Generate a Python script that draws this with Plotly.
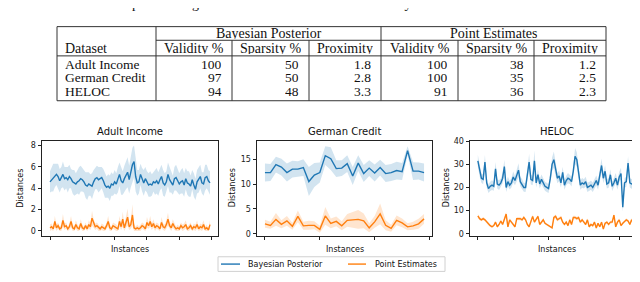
import plotly.graph_objects as go

W, H = 640, 282

# ---------------- table data ----------------
datasets = ["Adult Income", "German Credit", "HELOC"]
group_labels = ["Bayesian Posterior", "Point Estimates"]
metric_labels = ["Validity %", "Sparsity %", "Proximity"]
bayes_validity = [100, 97, 94]
bayes_sparsity = [50, 50, 48]
bayes_proximity = [1.8, 2.8, 3.3]
point_validity = [100, 100, 91]
point_sparsity = [38, 35, 36]
point_proximity = [1.2, 2.5, 2.3]

# ---------------- chart data ----------------
adult_bayes = [4.6, 4.8, 5.0, 5.2, 5.3, 5.1, 4.7, 5.0, 5.3, 4.9,
               5.0, 4.8, 5.1, 4.9, 4.6, 4.5, 4.4, 4.6, 4.7, 4.9,
               4.8, 4.6, 4.3, 4.2, 4.4, 4.3, 4.2, 4.6, 4.9, 5.0,
               4.8, 4.9, 5.0, 4.7, 4.3, 4.1, 4.2, 4.0, 4.4, 4.3,
               4.6, 4.4, 4.8, 5.3, 4.7, 4.5, 4.9, 5.2, 5.5, 4.8,
               5.6, 6.2, 6.5, 5.1, 4.5, 4.6, 5.3, 4.8, 4.5, 4.9,
               4.6, 4.3, 4.4, 4.3, 4.6, 4.5, 4.7, 4.4, 4.8, 5.1,
               4.5, 4.3, 4.6, 5.3, 4.8, 4.6, 4.3, 4.9, 5.0, 4.7,
               4.4, 4.6, 4.7, 4.3, 4.9, 4.5, 4.4, 4.2, 4.8, 4.3,
               3.9, 4.6, 4.8, 5.1, 4.5, 4.4, 5.0, 5.1, 4.7, 4.5]
adult_bayes_sd = [1.0, 1.1, 1.3, 1.1, 1.0, 1.2, 1.1, 1.0, 1.2, 1.1,
                  1.0, 1.2, 1.1, 0.9, 1.1, 1.2, 1.0, 1.1, 1.3, 1.2,
                  1.1, 1.0, 1.2, 1.3, 1.1, 1.0, 1.2, 1.1, 1.0, 1.1,
                  1.2, 1.1, 1.0, 1.1, 1.2, 1.0, 1.1, 1.2, 1.1, 1.0,
                  1.1, 1.0, 1.2, 1.1, 1.3, 1.1, 1.2, 1.3, 1.4, 1.3,
                  1.5, 1.6, 1.5, 1.4, 1.2, 1.1, 1.0, 1.1, 1.2, 1.1,
                  1.0, 1.1, 1.2, 1.0, 0.9, 1.1, 1.2, 1.1, 1.0, 1.1,
                  1.2, 1.1, 1.0, 1.1, 1.2, 1.0, 0.9, 1.1, 1.2, 1.1,
                  1.0, 1.1, 1.2, 1.1, 1.0, 1.1, 1.2, 1.0, 0.9, 1.1,
                  1.0, 1.1, 1.2, 1.1, 1.0, 1.1, 1.2, 1.1, 1.0, 1.1]
adult_point = [0.3, 0.4, 0.2, 0.9, 0.3, 0.5, 0.2, 0.3, 1.0, 0.4,
               0.5, 0.2, 0.4, 0.9, 0.3, 0.2, 0.6, 0.3, 0.2, 0.7,
               0.3, 0.2, 0.5, 0.2, 0.6, 0.4, 1.2, 0.7, 0.4, 0.5,
               0.3, 0.2, 0.4, 0.3, 0.2, 0.5, 0.9, 0.3, 0.2, 0.5,
               0.4, 0.3, 0.2, 0.9, 0.4, 1.1, 0.3, 0.8, 1.3, 0.4,
               0.6, 1.5, 0.3, 0.2, 0.3, 0.2, 0.3, 0.5, 0.4, 0.2,
               0.8, 0.5, 0.9, 0.4, 0.7, 0.3, 0.5, 0.4, 0.2, 0.8,
               0.4, 0.3, 0.6, 1.1, 0.5, 0.3, 0.7, 0.4, 0.2, 0.3,
               0.2, 0.5, 0.3, 0.4, 0.6, 0.2, 0.3, 0.5, 0.2, 0.4,
               0.3, 0.6, 0.2, 0.4, 0.3, 0.6, 0.2, 0.3, 0.1, 0.6]
adult_point_sd = [0.3, 0.3, 0.2, 0.5, 0.3, 0.3, 0.2, 0.3, 0.6, 0.3,
                  0.3, 0.2, 0.3, 0.5, 0.3, 0.2, 0.4, 0.3, 0.2, 0.4,
                  0.3, 0.2, 0.3, 0.2, 0.4, 0.3, 0.7, 0.4, 0.3, 0.3,
                  0.3, 0.2, 0.3, 0.3, 0.2, 0.3, 0.5, 0.3, 0.2, 0.3,
                  0.3, 0.3, 0.2, 0.5, 0.3, 0.7, 0.3, 0.5, 0.8, 0.3,
                  0.4, 1.0, 0.3, 0.2, 0.3, 0.2, 0.3, 0.3, 0.3, 0.2,
                  0.5, 0.3, 0.5, 0.3, 0.4, 0.3, 0.3, 0.3, 0.2, 0.5,
                  0.3, 0.3, 0.4, 0.6, 0.3, 0.3, 0.4, 0.3, 0.2, 0.3,
                  0.2, 0.3, 0.3, 0.3, 0.4, 0.2, 0.3, 0.3, 0.2, 0.3,
                  0.3, 0.4, 0.2, 0.3, 0.3, 0.4, 0.2, 0.3, 0.1, 0.4]

german_bayes = [12.3, 12.3, 13.9, 13.4, 12.3, 13.0, 13.0, 13.3, 10.5, 11.8,
                12.3, 15.7, 15.1, 13.1, 13.2, 14.1, 11.6, 14.2, 12.1, 13.2,
                12.2, 13.3, 12.1, 12.3, 12.7, 12.5, 16.7, 12.6, 12.6, 12.3]
german_bayes_sd = [1.8, 1.7, 1.6, 1.7, 1.8, 1.7, 1.6, 1.7, 2.9, 2.4,
                   2.0, 1.9, 2.3, 1.7, 1.6, 1.7, 1.8, 1.6, 1.7, 1.6,
                   1.7, 1.6, 1.7, 1.7, 1.8, 1.7, 0.9, 1.8, 1.7, 1.8]
german_point = [2.0, 1.7, 2.9, 1.9, 2.6, 1.5, 3.5, 1.6, 1.7, 1.7,
                0.9, 3.6, 2.1, 2.5, 1.6, 2.7, 2.8, 2.9, 2.6, 1.2,
                2.4, 4.0, 1.7, 1.1, 2.7, 2.2, 1.4, 1.6, 2.0, 3.0]
german_point_sd = [0.8, 0.7, 1.3, 0.8, 1.0, 0.7, 1.2, 0.8, 0.9, 0.8,
                   0.7, 1.8, 1.0, 1.0, 0.9, 1.3, 1.6, 1.9, 1.5, 0.9,
                   1.2, 2.1, 1.0, 0.7, 1.0, 0.9, 0.7, 0.8, 1.0, 1.0]

heloc_bayes = [31.5, 27.0, 24.0, 23.5, 31.0, 22.0, 19.5, 20.5, 21.0, 20.5,
               28.0, 21.5, 21.0, 22.0, 24.0, 29.0, 20.0, 22.5, 21.0, 22.0,
               24.5, 23.0, 25.0, 27.5, 22.5, 21.5, 20.0, 20.0, 25.0, 31.0,
               23.5, 23.0, 31.5, 22.0, 25.5, 21.5, 23.5, 22.0, 20.5, 20.0,
               19.5, 24.0, 30.0, 32.0, 28.0, 24.0, 25.0, 22.0, 26.5, 21.0,
               23.0, 24.0, 23.5, 22.5, 27.0, 33.5, 32.0, 26.0, 21.0, 22.0,
               21.5, 22.5, 20.0, 20.5, 21.0, 20.0, 21.5, 23.0, 21.0, 25.0,
               29.5, 24.0, 27.0, 21.5, 22.0, 25.5, 20.5, 22.0, 24.0, 21.0,
               24.5, 26.0, 11.5, 22.0, 22.5, 30.5, 22.0, 21.5, 22.0, 23.5]
heloc_bayes_sd = [2.5, 2.2, 2.0, 2.1, 3.0, 2.0, 1.9, 2.0, 2.1, 1.9,
                  3.0, 2.0, 2.1, 1.9, 2.2, 3.0, 2.0, 2.1, 1.9, 2.0,
                  2.4, 2.0, 2.3, 3.0, 2.0, 2.1, 1.9, 2.0, 2.5, 3.5,
                  2.2, 2.0, 4.5, 2.0, 2.4, 2.0, 2.1, 2.0, 1.9, 2.0,
                  1.9, 2.3, 3.0, 3.5, 3.0, 2.2, 2.3, 2.0, 2.5, 2.0,
                  2.1, 2.2, 2.0, 2.1, 2.6, 3.5, 3.2, 2.5, 2.0, 2.1,
                  2.0, 2.1, 2.0, 1.9, 2.0, 2.0, 2.1, 2.2, 2.0, 2.4,
                  3.0, 2.2, 2.6, 2.0, 2.1, 2.4, 2.0, 2.1, 2.2, 2.0,
                  2.3, 2.5, 2.0, 2.1, 2.2, 3.0, 2.0, 2.1, 2.0, 2.2]
heloc_point = [7.7, 6.5, 6.0, 6.5, 6.0, 5.0, 4.0, 3.5, 3.0, 3.5,
               5.0, 3.0, 4.0, 5.5, 4.0, 6.0, 8.5, 3.0, 6.0, 5.0,
               4.0, 3.0, 6.5, 6.5, 6.5, 6.0, 7.0, 6.0, 4.0, 3.0,
               5.0, 7.5, 5.0, 6.0, 7.5, 4.0, 5.0, 6.0, 4.5, 4.0,
               3.5, 3.0, 2.5, 7.0, 7.5, 6.0, 6.5, 7.0, 5.0, 4.0,
               5.0, 3.5, 6.0, 4.0, 7.0, 7.0, 6.5, 7.0, 5.0, 6.0,
               5.0, 4.0, 6.0, 3.0, 4.0, 3.5, 5.0, 2.5, 4.5, 3.0,
               5.0, 2.0, 4.5, 5.0, 4.0, 5.0, 5.0, 8.0, 3.0, 5.0,
               6.0, 3.5, 4.5, 5.5, 6.0, 5.5, 4.0, 6.0, 5.0, 5.5]
heloc_point_sd = [0.8, 0.7, 0.6, 0.7, 0.6, 0.6, 0.5, 0.5, 0.5, 0.5,
                  0.6, 0.5, 0.5, 0.6, 0.5, 0.7, 0.9, 0.5, 0.7, 0.6,
                  0.5, 0.5, 0.7, 0.7, 0.7, 0.6, 0.8, 0.7, 0.5, 0.5,
                  0.6, 0.8, 0.6, 0.6, 0.8, 0.5, 0.6, 0.7, 0.5, 0.5,
                  0.5, 0.5, 0.4, 0.8, 0.8, 0.7, 0.7, 0.8, 0.6, 0.5,
                  0.6, 0.5, 0.7, 0.5, 0.8, 0.8, 0.7, 0.8, 0.6, 0.7,
                  0.6, 0.5, 0.7, 0.5, 0.5, 0.5, 0.6, 0.4, 0.5, 0.5,
                  0.6, 0.4, 0.5, 0.6, 0.5, 0.6, 0.6, 0.9, 0.5, 0.6,
                  0.7, 0.5, 0.5, 0.6, 0.7, 0.6, 0.5, 0.7, 0.6, 0.6]

series_names = ["Bayesian Posterior", "Point Estimates"]
y_ticks = [[0, 2, 4, 6, 8], [0, 5, 10, 15], [0, 10, 20, 30, 40]]

# ---------------- styling ----------------
BLUE = "#1f77b4"
ORANGE = "#ff7f0e"
BLUE_FILL = "rgba(31,119,180,0.2)"
ORANGE_FILL = "rgba(255,127,14,0.2)"
SERIF = "Liberation Serif"
SANS = "DejaVu Sans"


def px(x):
    return x / W


def py(y):
    return 1 - y / H


panels = [
    dict(title=datasets[0], b=adult_bayes, bs=adult_bayes_sd, p=adult_point, ps=adult_point_sd,
         xdom=(34, 210), yr=[-0.45, 8.45], ylab=12.5),
    dict(title=datasets[1], b=german_bayes, bs=german_bayes_sd, p=german_point, ps=german_point_sd,
         xdom=(249, 424), yr=[-0.4, 18.7], ylab=224),
    dict(title=datasets[2], b=heloc_bayes, bs=heloc_bayes_sd, p=heloc_point, ps=heloc_point_sd,
         xdom=(462, 635), yr=[-0.9, 40.2], ylab=438),
]
AX_TOP, AX_BOT = 132, 229.5

fig = go.Figure()
annotations = []
shapes = []

for k, pnl in enumerate(panels):
    sfx = "" if k == 0 else str(k + 1)
    xa, ya = "x" + sfx, "y" + sfx
    n = len(pnl["b"])
    xs = list(range(n))
    for mean, sd, col, fill, nm in [(pnl["b"], pnl["bs"], BLUE, BLUE_FILL, series_names[0]),
                                    (pnl["p"], pnl["ps"], ORANGE, ORANGE_FILL, series_names[1])]:
        upper = [m + s for m, s in zip(mean, sd)]
        lower = [m - s for m, s in zip(mean, sd)]
        fig.add_trace(go.Scatter(x=xs + xs[::-1], y=upper + lower[::-1], fill="toself",
                                 fillcolor=fill, line=dict(width=0), mode="lines",
                                 hoverinfo="skip", showlegend=False, xaxis=xa, yaxis=ya))
        fig.add_trace(go.Scatter(x=xs, y=mean, mode="lines", name=nm,
                                 line=dict(color=col, width=1.4),
                                 showlegend=False, xaxis=xa, yaxis=ya))
    x0, x1 = pnl["xdom"]
    span = n - 1
    common = dict(showline=True, mirror=True, linecolor="#222", linewidth=1,
                  ticks="outside", ticklen=3.5, tickwidth=1, tickcolor="#222",
                  showgrid=False, zeroline=False)
    fig.update_layout(**{
        "xaxis" + sfx: dict(domain=[px(x0), px(x1)], range=[-0.05 * span, 1.05 * span],
                            tickmode="linear", tick0=0, dtick=20 if n > 50 else 10,
                            showticklabels=False, anchor=ya, **common),
        "yaxis" + sfx: dict(domain=[py(AX_BOT), py(AX_TOP)], range=pnl["yr"],
                            tickvals=y_ticks[k], ticktext=[str(v) for v in y_ticks[k]],
                            tickfont=dict(family=SANS, size=8, color="#222"),
                            anchor=xa, **common),
    })
    cx = (x0 + x1) / 2
    annotations.append(dict(text=pnl["title"], x=px(cx), y=py(123), xref="paper", yref="paper",
                            showarrow=False, xanchor="center", yanchor="middle",
                            font=dict(family=SANS, size=10, color="#111")))
    annotations.append(dict(text="Instances", x=px(cx), y=py(244), xref="paper", yref="paper",
                            showarrow=False, xanchor="center", yanchor="middle",
                            font=dict(family=SANS, size=8, color="#111")))
    annotations.append(dict(text="Distances", x=px(pnl["ylab"]), y=py((AX_TOP + AX_BOT) / 2),
                            xref="paper", yref="paper", showarrow=False, textangle=-90,
                            xanchor="center", yanchor="middle",
                            font=dict(family=SANS, size=8, color="#111")))

# ---------------- legend (frame, sample lines, labels) ----------------
LG_L, LG_R, LG_T, LG_B = 210, 437, 251, 266
shapes.append(dict(type="rect", xref="paper", yref="paper", x0=px(LG_L), x1=px(LG_R),
                   y0=py(LG_B), y1=py(LG_T), line=dict(color="#d0d0d0", width=1),
                   fillcolor="white", layer="above"))
legend_items = [(series_names[0], BLUE, 213, 232, 238), (series_names[1], ORANGE, 340, 358, 365)]
lg_mid = (LG_T + LG_B) / 2
for nm, col, s0, s1, tx in legend_items:
    shapes.append(dict(type="line", xref="paper", yref="paper", x0=px(s0), x1=px(s1),
                       y0=py(lg_mid), y1=py(lg_mid), line=dict(color=col, width=1.4),
                       layer="above"))
    annotations.append(dict(text=nm, x=px(tx), y=py(lg_mid), xref="paper", yref="paper",
                            showarrow=False, xanchor="left", yanchor="middle", height=11,
                            font=dict(family=SANS, size=8, color="#111")))

# ---------------- table drawn with shapes + text ----------------
TL, TR, TT, TB = 49, 598, 15, 91
col_edges = [49, 148, 224, 301, 373, 450, 526, 598]
H1_LINE, H2_LINE = 29, 45
row_y = [53, 67, 81]
LINE = dict(color="#333", width=1)


def hline(x0, x1, y):
    shapes.append(dict(type="line", xref="paper", yref="paper", x0=px(x0), x1=px(x1),
                       y0=py(y), y1=py(y), line=LINE))


def vline(x, y0, y1):
    shapes.append(dict(type="line", xref="paper", yref="paper", x0=px(x), x1=px(x),
                       y0=py(y0), y1=py(y1), line=LINE))


hline(TL, TR, TT)
hline(TL, TR, TB)
hline(col_edges[1], TR, H1_LINE)
hline(TL, TR, H2_LINE)
for x in [TL, col_edges[1], col_edges[4], TR]:
    vline(x, TT, TB)
for x in [col_edges[2], col_edges[3], col_edges[5], col_edges[6]]:
    vline(x, H1_LINE, TB)


def txt(s, x, y, anchor="center", size=14):
    annotations.append(dict(text=s, x=px(x), y=py(y), xref="paper", yref="paper",
                            showarrow=False, xanchor=anchor, yanchor="middle", height=12,
                            font=dict(family=SERIF, size=size, color="#111")))


txt(group_labels[0], (col_edges[1] + col_edges[4]) / 2, 22)
txt(group_labels[1], (col_edges[4] + col_edges[7]) / 2, 22)
txt("Dataset", 55, 37, "left")
for j in range(6):
    txt(metric_labels[j % 3], (col_edges[j + 1] + col_edges[j + 2]) / 2, 37)
cols = [bayes_validity, bayes_sparsity, bayes_proximity,
        point_validity, point_sparsity, point_proximity]
for i, name in enumerate(datasets):
    txt(name, 55, row_y[i], "left", 13.5)
    for j, c in enumerate(cols):
        txt(str(c[i]), col_edges[j + 2] - 8, row_y[i], "right", 13.5)

# captions (cut by the page edges as in the reference)
annotations.append(dict(text="Table 2: Comparison of generated counterfactuals between Bayesian Posterior and Point Estimates.",
                        x=px(326), y=py(1), xref="paper", yref="paper", showarrow=False,
                        xanchor="center", yanchor="bottom",
                        font=dict(family=SERIF, size=14, color="#111")))
annotations.append(dict(text="Figure 3: Distances comparison between Bayesian Posterior and point estimates, the highlighted light blue/light orange for different",
                        x=px(2), y=py(280.5), xref="paper", yref="paper", showarrow=False,
                        xanchor="left", yanchor="top",
                        font=dict(family=SERIF, size=14, color="#111")))

fig.update_layout(
    width=W, height=H, margin=dict(l=0, r=0, t=0, b=0),
    paper_bgcolor="white", plot_bgcolor="white",
    annotations=annotations, shapes=shapes,
    showlegend=False,
)

fig.write_html("out.html")
